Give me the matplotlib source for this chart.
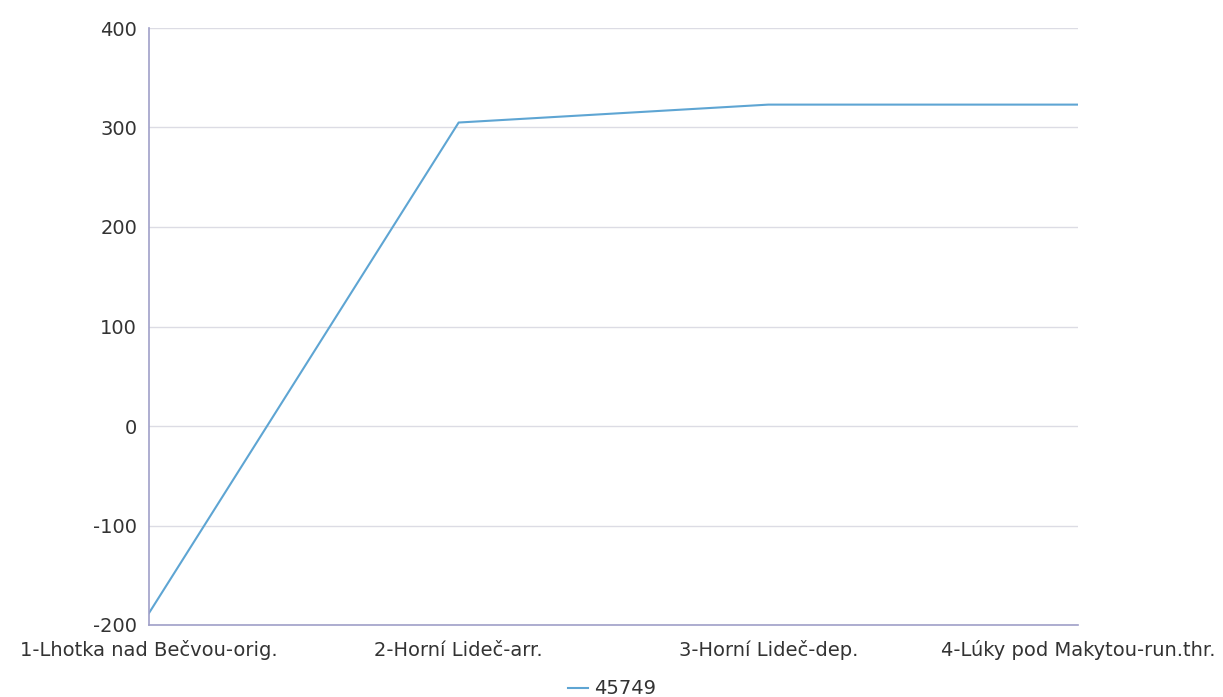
import matplotlib
matplotlib.use("Agg")
import matplotlib.pyplot as plt

categories = ["1-Lhotka nad Bečvou-orig.", "2-Horní Lideč-arr.", "3-Horní Lideč-dep.", "4-Lúky pod Makytou-run.thr."]
series_name = "45749"
values = [-188, 305, 323, 323]
yticks = [-200, -100, 0, 100, 200, 300, 400]

plt.rcParams['font.family'] = ['DejaVu Sans']
fig = plt.figure(figsize=(12.23, 6.97), dpi=100)
ax = fig.add_axes([149/1223, 1 - 625/697, (1078 - 149)/1223, (625 - 28)/697])

x = list(range(len(categories)))
line, = ax.plot(x, values, color="#5ea5d3", linewidth=1.5, label=series_name)

ax.set_xlim(0, len(categories) - 1)
ax.set_ylim(-200, 400)
ax.set_yticks(yticks)
ax.set_yticklabels([str(v) for v in yticks])
ax.set_xticks(x)
ax.set_xticklabels(categories)
ax.grid(axis="y", color="#dcdce4", linewidth=1)
ax.set_axisbelow(True)
for s in ["top", "right"]:
    ax.spines[s].set_visible(False)
for s in ["left", "bottom"]:
    ax.spines[s].set_color("#a0a0c8")
    ax.spines[s].set_linewidth(1.2)
ax.tick_params(axis="both", length=0, labelsize=14, colors="#333333")
ax.tick_params(axis="y", pad=8.5)
ax.tick_params(axis="x", pad=22)
for lbl in ax.get_xticklabels():
    lbl.set_verticalalignment("baseline")

fig.legend(handles=[line], labels=[series_name], loc="center", bbox_to_anchor=(612/1223, 1 - 689/697),
           frameon=False, fontsize=14, handlelength=1.0, handletextpad=0.3, labelcolor="#333333",
           borderpad=0, borderaxespad=0)

fig.savefig("out.png", dpi=100)
